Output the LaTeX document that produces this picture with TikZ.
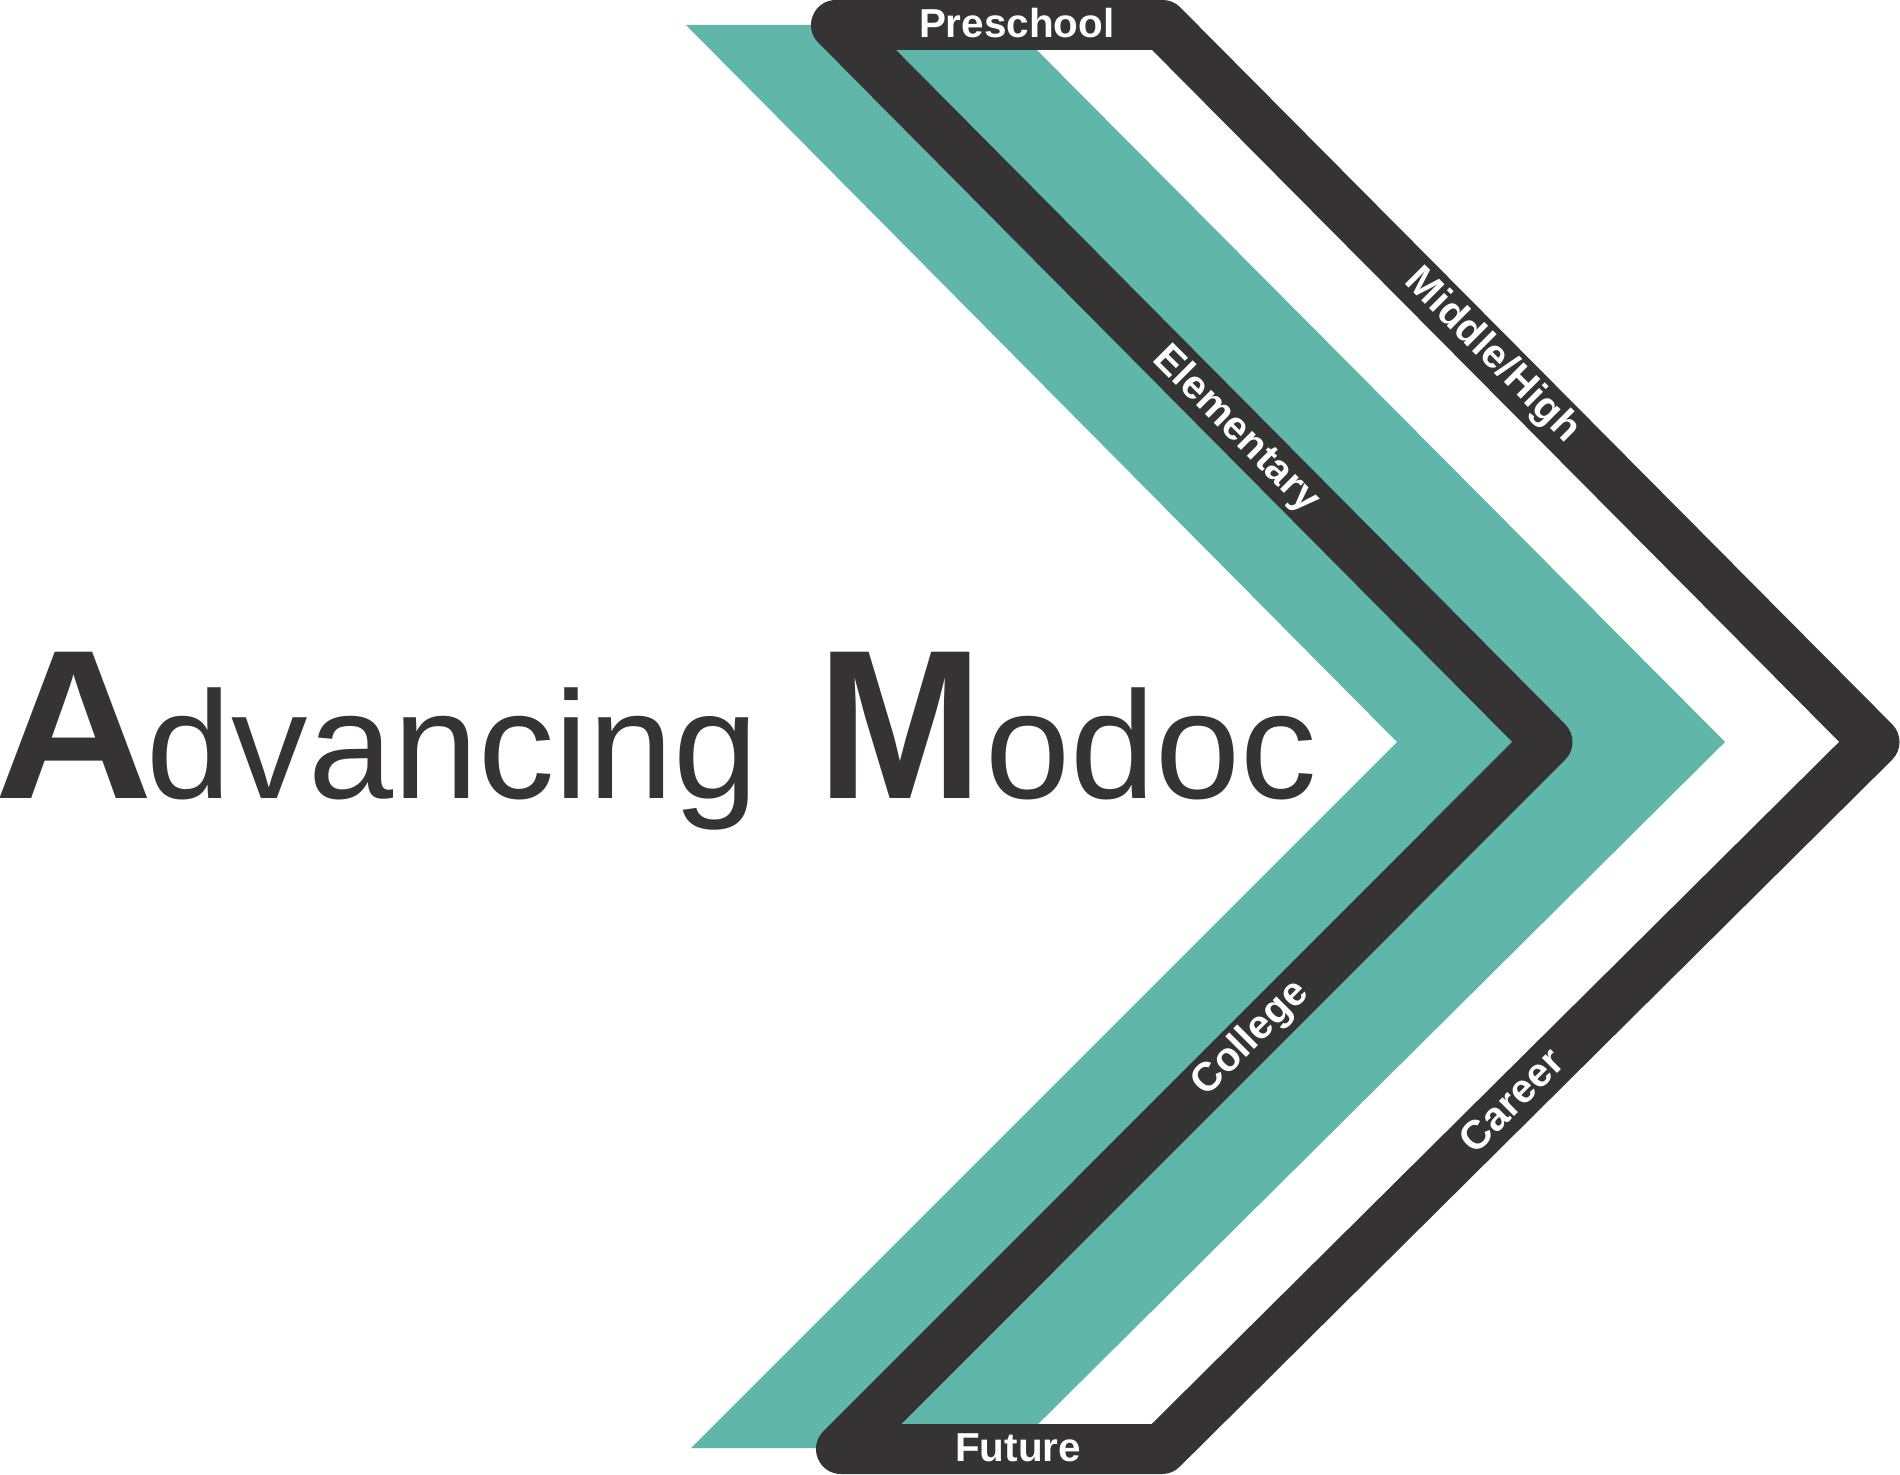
\documentclass[tikz,border=0pt]{standalone}
\usepackage{fontspec}
\setmainfont{Liberation Sans}
\definecolor{modocteal}{HTML}{5FB6A9}
\definecolor{modocdark}{HTML}{353334}
\tikzset{
  band/.style={draw=modocdark,line width=0.5cm,line join=round},
  stage/.style={text=white,font=\fontsize{11.5}{11.5}\selectfont\bfseries,inner sep=0pt},
}
\newcommand{\titlecap}[1]{{\fontsize{60.5}{60.5}\selectfont\bfseries #1}}
\begin{document}
\begin{tikzpicture}
  \useasboundingbox (0,0) rectangle (19,14.74);
  \fill[modocteal] (6.86,14.49) -- (13.97,7.32) -- (6.91,0.26) -- (10.14,0.26) -- (17.25,7.32) -- (10.12,14.49) -- cycle;
  \coordinate (tl) at (8.36,14.49);
  \coordinate (tr) at (11.625,14.49);
  \coordinate (ar) at (18.745,7.32);
  \coordinate (br) at (11.62,0.25);
  \coordinate (bl) at (8.41,0.25);
  \coordinate (al) at (15.475,7.32);
  \draw[band] (tl) -- (tr) -- (ar) -- (br) -- (bl) -- (al) -- cycle;
  \node[stage,anchor=base] (preschool) at (10.167,14.36) {Preschool};
  \node[stage,anchor=base] (future) at (10.18,0.13) {Future};
  \node[stage,rotate=-45] (elementary) at (12.36,10.44) {Elementary};
  \node[stage,rotate=-45] (middle) at (14.92,11.18) {Middle/High};
  \node[stage,rotate=45] (college) at (12.51,4.355) {College};
  \node[stage,rotate=45] (career) at (15.11,3.74) {Career};
  \node[anchor=base west,inner sep=0pt,text=modocdark,font=\fontsize{43.5}{43.5}\selectfont] (title) at (-0.06,6.755)
    {\titlecap{\scalebox{1.035}[1]{A}\kern-2pt}dvancing\titlecap{\ \scalebox{.935}[1]{M}\kern.6pt}odoc};
\end{tikzpicture}
\end{document}
